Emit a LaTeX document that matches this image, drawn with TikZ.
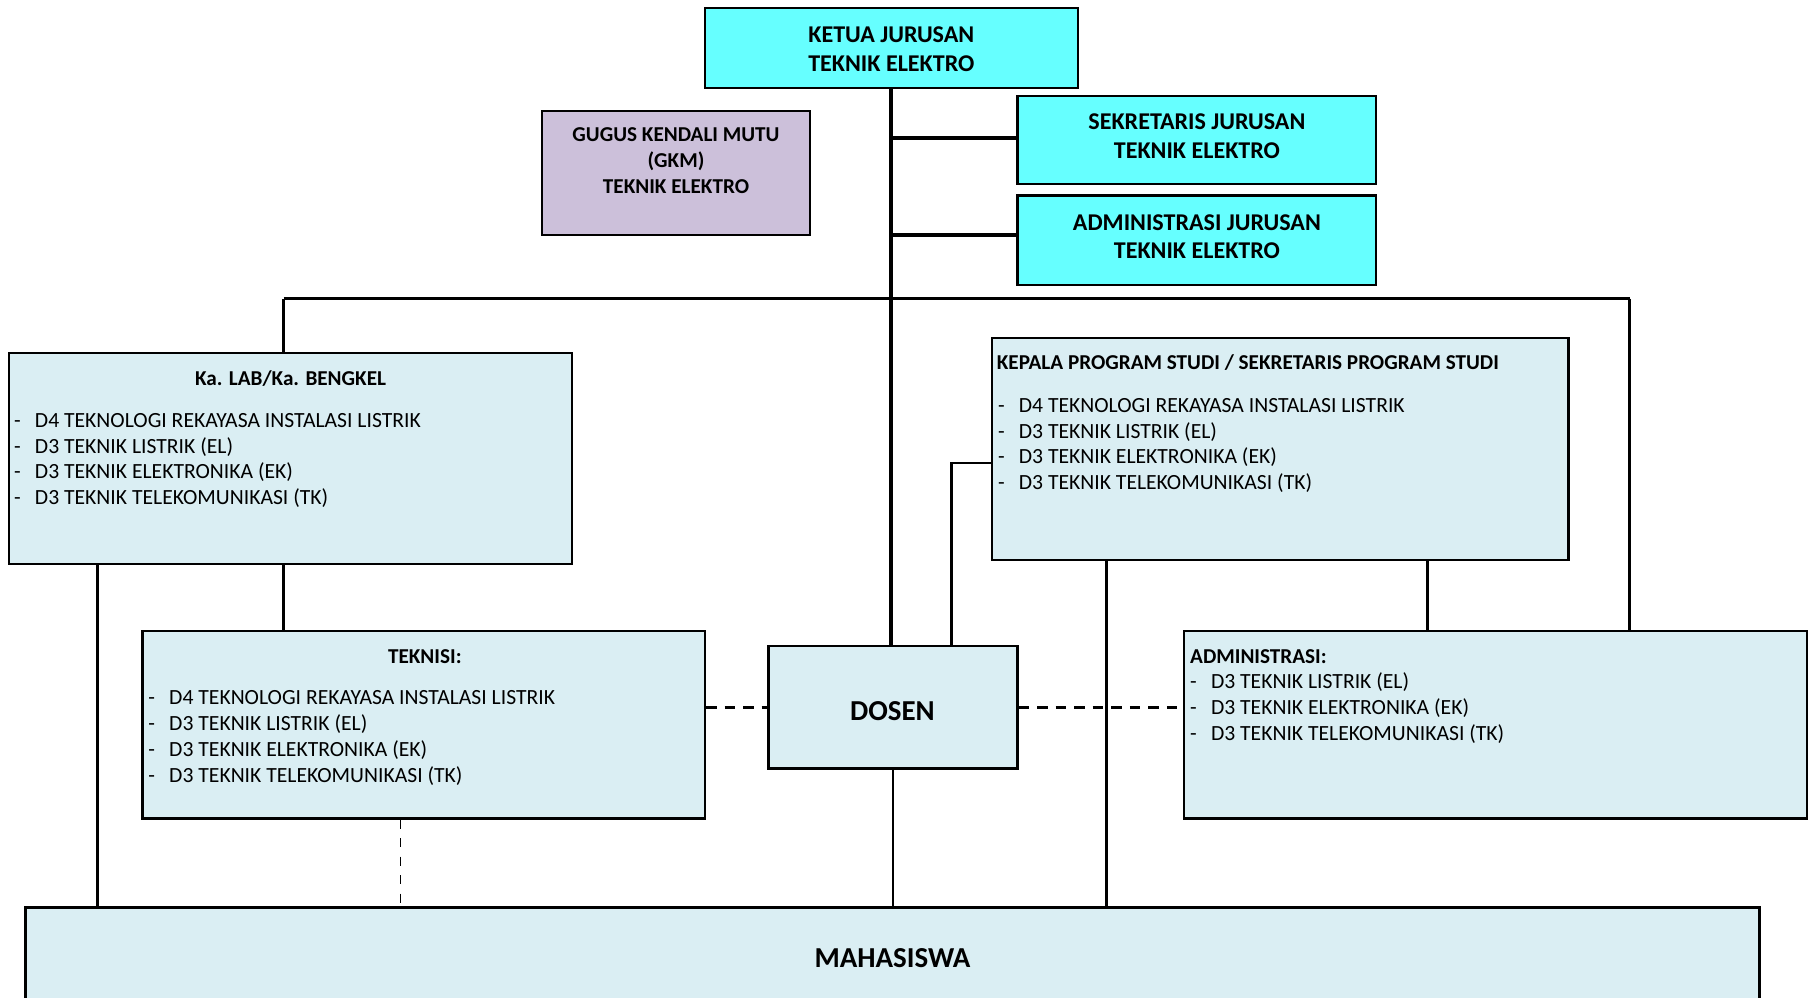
\documentclass[tikz,border=0pt]{standalone}
\usepackage{fontspec}
\setmainfont{Carlito}
\definecolor{cyanbox}{HTML}{66FFFF}
\definecolor{gkmbox}{HTML}{CCC0DA}
\definecolor{bluebox}{HTML}{DAEEF3}
\newcommand{\itemdash}{\makebox[18pt][l]{-}}

\begin{document}
\begin{tikzpicture}[x=1pt,y=-1pt,
  unitbox/.style={draw, line width=2pt, fill=bluebox, inner sep=0pt},
  headbox/.style={unitbox, fill=cyanbox},
  headtext/.style={font=\bfseries\fontsize{20.8}{25}\selectfont, align=center, inner sep=0pt},
  titletext/.style={font=\bfseries\fontsize{18.3}{22.5}\selectfont, inner sep=0pt},
  itemtext/.style={font=\fontsize{18.7}{22.5}\selectfont, anchor=base west, inner sep=0pt},
  bigtext/.style={font=\bfseries\fontsize{25}{30}\selectfont, inner sep=0pt},
  orgline/.style={line width=2.5pt},
  dashline/.style={line width=2.5pt, dash pattern=on 9pt off 7pt}]
\useasboundingbox (0,0) rectangle (1568,862);
\clip (0,0) rectangle (1568,862);
% boxes
\node[headbox, minimum width=322pt, minimum height=69pt] (ketua) at (770,41.5) {};
\node[unitbox, fill=gkmbox, minimum width=232pt, minimum height=107pt] (gkm) at (584,149.5) {};
\node[headbox, minimum width=310pt, minimum height=76pt] (sek) at (1034,121) {};
\node[headbox, minimum width=310pt, minimum height=77pt] (admj) at (1034,207.5) {};
\node[unitbox, minimum width=486pt, minimum height=182pt] (lab) at (251,396) {};
\node[unitbox, minimum width=498pt, minimum height=192pt] (kaprodi) at (1106,388) {};
\node[unitbox, minimum width=486pt, minimum height=162pt] (teknisi) at (366,626) {};
\node[unitbox, minimum width=215pt, minimum height=106pt] (dosen) at (771.5,611) {};
\node[unitbox, minimum width=538pt, minimum height=162pt] (adm) at (1292,626) {};
\node[unitbox, minimum width=1498pt, minimum height=110pt] (mhs) at (771,839) {};
% texts
\node[headtext] (ketuaT) at (770,42.5) {KETUA JURUSAN\\TEKNIK ELEKTRO};
\node[headtext, font=\bfseries\fontsize{18.3}{22.5}\selectfont] (gkmT) at (584,138.5) {GUGUS KENDALI MUTU\\(GKM)\\TEKNIK ELEKTRO};
\node[headtext] (sekT) at (1034,117.5) {SEKRETARIS JURUSAN\\TEKNIK ELEKTRO};
\node[headtext] (admjT) at (1034,204.5) {ADMINISTRASI JURUSAN\\TEKNIK ELEKTRO};
\node[titletext, anchor=base] (labT) at (251,333) {Ka. LAB/Ka. BENGKEL};
\node[titletext, anchor=base] (teknisiT) at (367,573) {TEKNISI:};
\node[titletext, anchor=base west] (kaprodiT) at (861,319) {KEPALA PROGRAM STUDI / SEKRETARIS PROGRAM STUDI};
\node[titletext, anchor=base west] (admT) at (1028,573) {ADMINISTRASI:};
\foreach \t [count=\i from 0] in {D4 TEKNOLOGI REKAYASA INSTALASI LISTRIK, D3 TEKNIK LISTRIK (EL), D3 TEKNIK ELEKTRONIKA (EK), D3 TEKNIK TELEKOMUNIKASI (TK)} {
  \node[itemtext] (labI\i) at (12,369+22.4*\i) {\itemdash\t};
  \node[itemtext] (teknisiI\i) at (128,609+22.4*\i) {\itemdash\t};
  \node[itemtext] (kaprodiI\i) at (862,356+22.4*\i) {\itemdash\t};
}
\foreach \t [count=\i from 0] in {D3 TEKNIK LISTRIK (EL), D3 TEKNIK ELEKTRONIKA (EK), D3 TEKNIK TELEKOMUNIKASI (TK)}
  \node[itemtext] (admI\i) at (1028,595+22.4*\i) {\itemdash\t};
\node[bigtext] (dosenT) at (771,614) {DOSEN};
\node[bigtext] (mhsT) at (771,828) {MAHASISWA};
% connectors
\coordinate (busL) at (245,258);
\coordinate (busR) at (1408,258);
\coordinate (sekL) at ([yshift=2pt]sek.west);
\coordinate (admjL) at ([yshift=4.5pt]admj.west);
\draw[orgline, line width=3.2pt] (ketua.south) -- (ketua.south |- dosen.north);
\draw[orgline, line width=3.4pt] (ketua.south |- sekL) -- (sekL);
\draw[orgline, line width=3.4pt] (ketua.south |- admjL) -- (admjL);
\draw[orgline, line width=3pt] (busL) -- (busR);
\draw[orgline, line width=3pt] (busL) -- (busL |- lab.north);
\draw[orgline] (busR) -- (busR |- adm.north);
\draw[orgline] (busL |- lab.south) -- (busL |- teknisi.north);
\coordinate (labL) at ([xshift=77pt]lab.south west);
\draw[orgline] (labL) -- (labL |- mhs.north);
\coordinate (teknisiB) at ([xshift=224pt]teknisi.south west);
\draw[line width=1.5pt, dash pattern=on 8pt off 8pt] (teknisiB) -- (teknisiB |- mhs.north);
\draw[dashline] (dosen.west -| teknisi.east) -- (dosen.west);
\draw[dashline] (dosen.east) -- (dosen.east -| adm.west);
\coordinate (dosenR) at ([xshift=50.5pt]dosen.north);
\coordinate (kaprodiL) at ([yshift=-12pt]kaprodi.west);
\draw[orgline] (dosenR) |- (kaprodiL);
\coordinate (kaprodiB1) at ([xshift=100pt]kaprodi.south west);
\coordinate (kaprodiB2) at ([xshift=377pt]kaprodi.south west);
\draw[orgline] (kaprodiB1) -- (kaprodiB1 |- mhs.north);
\draw[orgline] (kaprodiB2) -- (kaprodiB2 |- adm.north);
\draw[orgline] (dosen.south) -- (dosen.south |- mhs.north);
\end{tikzpicture}
\end{document}
